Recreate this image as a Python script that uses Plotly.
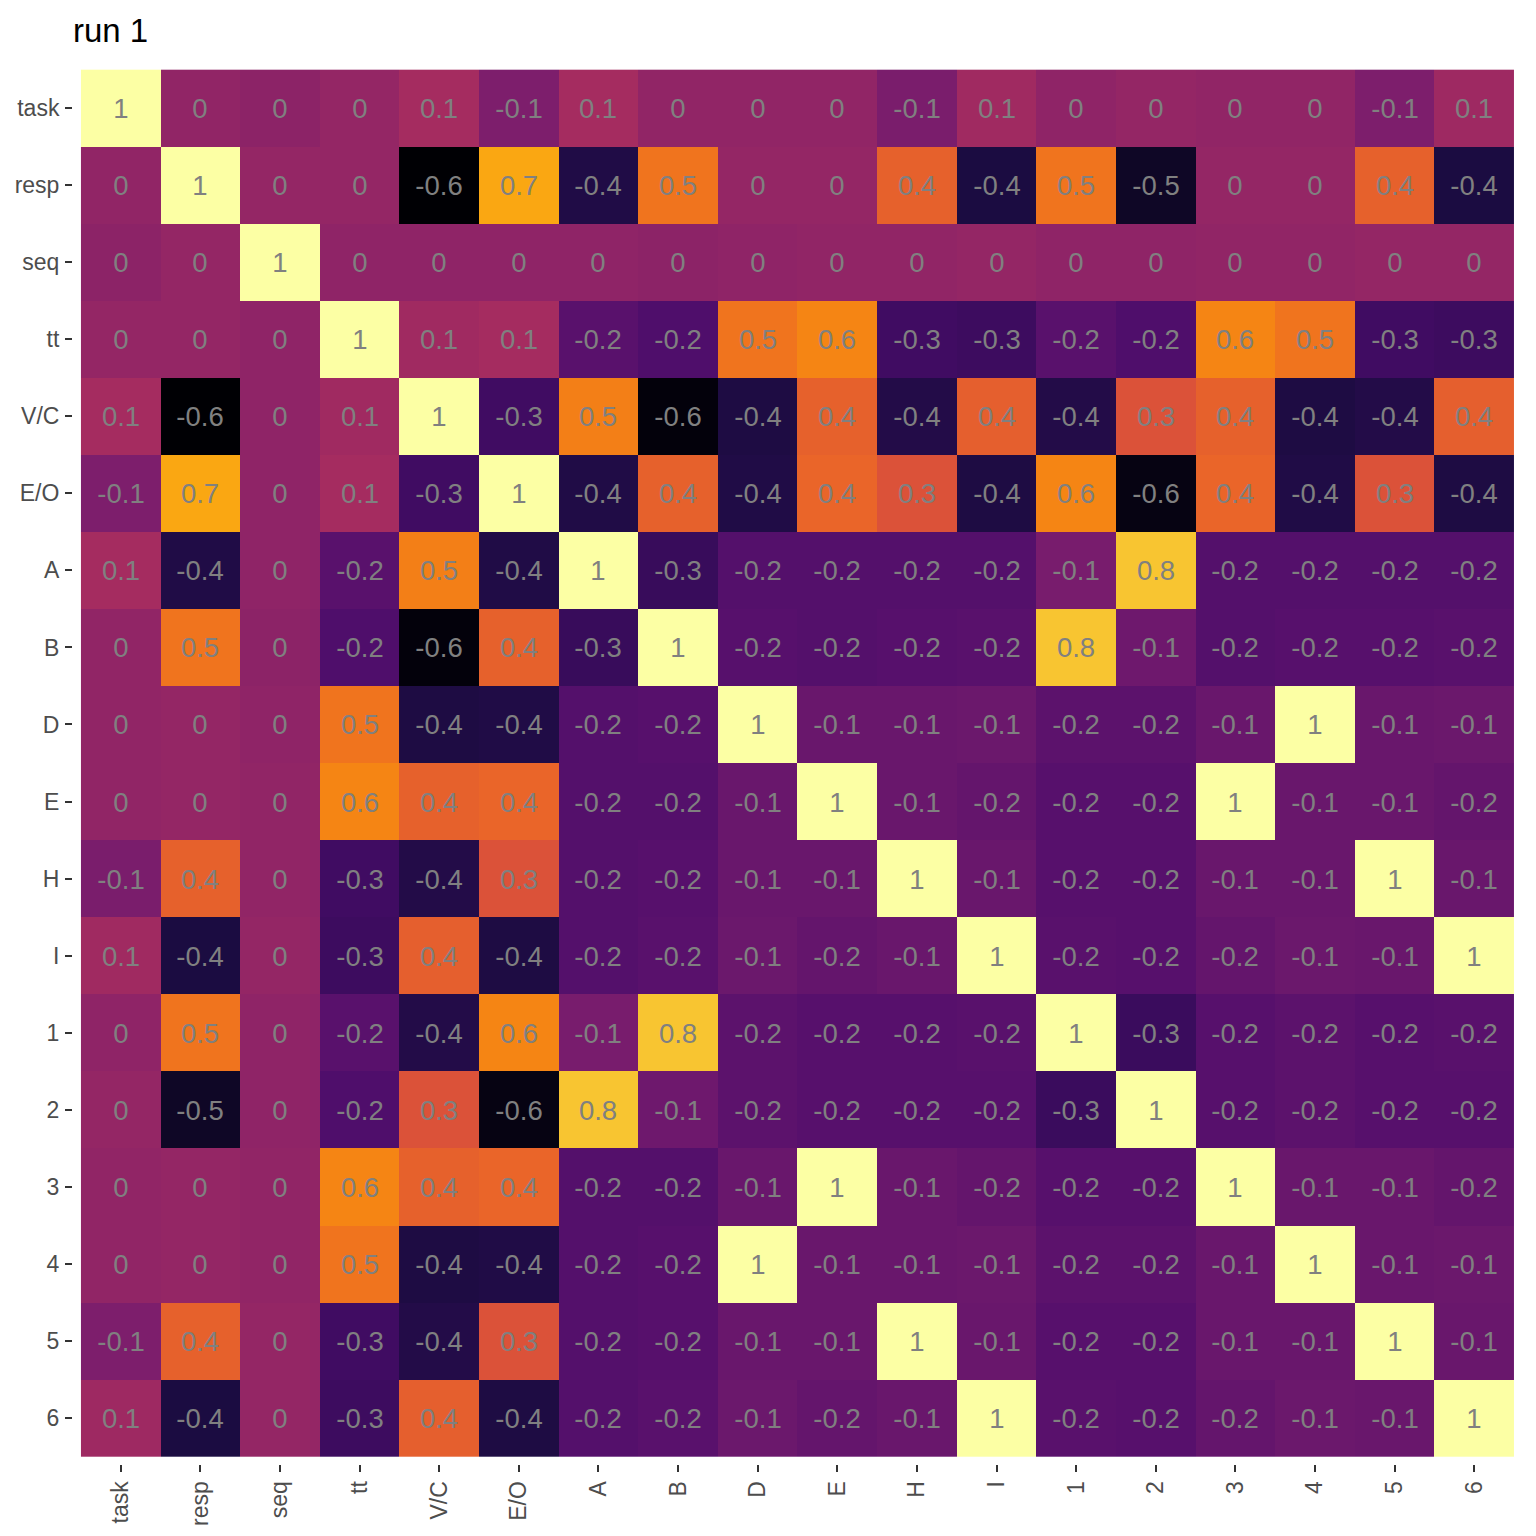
import plotly.graph_objects as go
import plotly.express as px

labels = ["task", "resp", "seq", "tt", "V/C", "E/O", "A", "B", "D", "E", "H", "I",
          "1", "2", "3", "4", "5", "6"]

corr = [
    [1, 0.02, 0.0, 0.03, 0.1, -0.06, 0.1, 0.02, 0.02, 0.02, -0.07, 0.08, 0.01, 0.03, 0.02, 0.02, -0.06, 0.07],
    [0.02, 1, 0.03, 0.03, -0.62, 0.68, -0.42, 0.5, 0.03, 0.03, 0.42, -0.44, 0.5, -0.52, 0.03, 0.03, 0.42, -0.44],
    [0.0, 0.03, 1, 0.01, 0.01, 0.01, 0.01, 0.0, 0.01, 0.02, 0.02, 0.03, 0.01, 0.01, 0.02, 0.02, 0.03, 0.03],
    [0.03, 0.03, 0.01, 1, 0.08, 0.1, -0.2, -0.24, 0.5, 0.56, -0.3, -0.31, -0.2, -0.24, 0.56, 0.5, -0.3, -0.31],
    [0.1, -0.62, 0.01, 0.08, 1, -0.3, 0.54, -0.6, -0.43, 0.42, -0.41, 0.41, -0.41, 0.35, 0.42, -0.43, -0.41, 0.41],
    [-0.06, 0.68, 0.01, 0.1, -0.3, 1, -0.42, 0.42, -0.42, 0.44, 0.35, -0.43, 0.56, -0.58, 0.44, -0.42, 0.35, -0.43],
    [0.1, -0.42, 0.01, -0.2, 0.54, -0.42, 1, -0.33, -0.22, -0.22, -0.22, -0.22, -0.08, 0.78, -0.22, -0.22, -0.22, -0.22],
    [0.02, 0.5, 0.0, -0.24, -0.6, 0.42, -0.33, 1, -0.21, -0.22, -0.21, -0.2, 0.78, -0.12, -0.22, -0.21, -0.21, -0.2],
    [0.02, 0.03, 0.01, 0.5, -0.43, -0.42, -0.22, -0.21, 1, -0.14, -0.14, -0.13, -0.19, -0.19, -0.14, 1, -0.14, -0.13],
    [0.02, 0.03, 0.02, 0.56, 0.42, 0.44, -0.22, -0.22, -0.14, 1, -0.14, -0.16, -0.21, -0.21, 1, -0.14, -0.14, -0.16],
    [-0.07, 0.42, 0.02, -0.3, -0.41, 0.35, -0.22, -0.21, -0.14, -0.14, 1, -0.14, -0.21, -0.21, -0.14, -0.14, 1, -0.14],
    [0.08, -0.44, 0.03, -0.31, 0.41, -0.43, -0.22, -0.2, -0.13, -0.16, -0.14, 1, -0.2, -0.21, -0.16, -0.13, -0.14, 1],
    [0.01, 0.5, 0.01, -0.2, -0.41, 0.56, -0.08, 0.78, -0.19, -0.21, -0.21, -0.2, 1, -0.32, -0.21, -0.19, -0.21, -0.2],
    [0.03, -0.52, 0.01, -0.24, 0.35, -0.58, 0.78, -0.12, -0.19, -0.21, -0.21, -0.21, -0.32, 1, -0.21, -0.19, -0.21, -0.21],
    [0.02, 0.03, 0.02, 0.56, 0.42, 0.44, -0.22, -0.22, -0.14, 1, -0.14, -0.16, -0.21, -0.21, 1, -0.14, -0.14, -0.16],
    [0.02, 0.03, 0.02, 0.5, -0.43, -0.42, -0.22, -0.21, 1, -0.14, -0.14, -0.13, -0.19, -0.19, -0.14, 1, -0.14, -0.13],
    [-0.06, 0.42, 0.03, -0.3, -0.41, 0.35, -0.22, -0.21, -0.14, -0.14, 1, -0.14, -0.21, -0.21, -0.14, -0.14, 1, -0.14],
    [0.07, -0.44, 0.03, -0.31, 0.41, -0.43, -0.22, -0.2, -0.13, -0.16, -0.14, 1, -0.2, -0.21, -0.16, -0.13, -0.14, 1],
]


def fmt(v):
    r = round(v, 1)
    if r == 0:
        return "0"
    if r == int(r):
        return str(int(r))
    return f"{r:g}"


text = [[fmt(v) for v in row] for row in corr]
n = len(labels)

fig = go.Figure(
    go.Heatmap(
        z=corr,
        x=labels,
        y=labels,
        text=text,
        texttemplate="%{text}",
        textfont=dict(family="Liberation Sans, Arial, sans-serif", size=27.5, color="#808080"),
        colorscale=px.colors.sequential.Inferno,
        zmin=-0.62,
        zmax=1,
        showscale=False,
        xgap=0,
        ygap=0,
    )
)

fig.update_layout(
    width=1536,
    height=1536,
    paper_bgcolor="white",
    plot_bgcolor="white",
    margin=dict(l=65, r=22, t=54, b=80, autoexpand=False),
    title=dict(
        text="run 1",
        x=65 / 1536,
        xref="container",
        xanchor="left",
        y=1 - 22 / 1536,
        yref="container",
        yanchor="middle",
        font=dict(family="Liberation Sans, Arial, sans-serif", size=33, color="black"),
    ),
    font=dict(family="Liberation Sans, Arial, sans-serif"),
)

fig.update_xaxes(
    type="category",
    range=[-0.6, n - 0.4],
    tickangle=-90,
    ticks="outside",
    ticklen=7,
    tickwidth=1.5,
    tickcolor="#333333",
    ticklabelstandoff=0,
    tickfont=dict(size=23, color="#4D4D4D"),
    showgrid=False,
    zeroline=False,
    showline=False,
    automargin=False,
)
fig.update_yaxes(
    type="category",
    range=[n - 0.4, -0.6],
    ticks="outside",
    ticklen=7,
    tickwidth=1.5,
    tickcolor="#333333",
    ticklabelstandoff=1,
    tickfont=dict(size=23, color="#4D4D4D"),
    showgrid=False,
    zeroline=False,
    showline=False,
    automargin=False,
)

fig.write_html("out.html")
